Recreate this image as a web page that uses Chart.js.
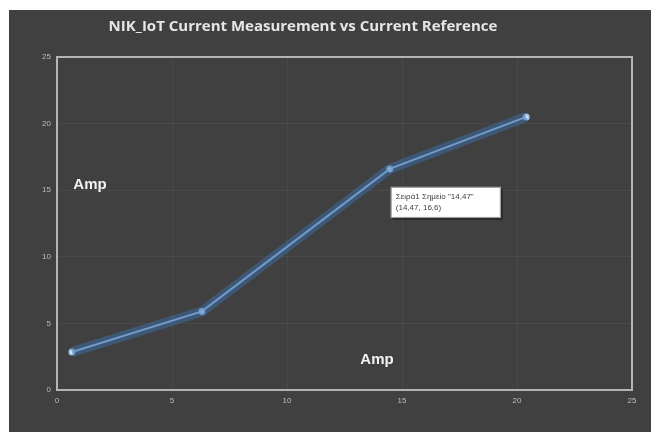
<!DOCTYPE html>
<html>
<head>
<meta charset="utf-8">
<script src="https://cdn.jsdelivr.net/npm/chart.js@4/dist/chart.umd.min.js"></script>
<style>
  body { margin: 0; background: #ffffff; }
  #wrap { position: absolute; left: 9px; top: 10px; width: 642px; height: 422px; background: #404040; }
</style>
</head>
<body>
<div id="wrap"><canvas id="c"></canvas></div>
<script>
'use strict';

// data
var chartTitle = 'NIK_IoT Current Measurement vs Current Reference';
var xValues = [0.65, 6.3, 14.47, 20.4];
var yValues = [2.85, 5.9, 16.6, 20.5];
var axisMin = 0;
var axisMax = 25;
var axisStep = 5;
var axisLabel = 'Amp';
var tipIndex = 2;
var tipLines = ['Σειρά1 Σημείο "14,47"', '(14,47, 16,6)'];

var points = xValues.map(function (x, i) { return { x: x, y: yValues[i] }; });

// title, axis words and the excel-like tooltip box
var extras = {
    id: 'extras',
    afterDraw: function (chart) {
        var ctx = chart.ctx;
        var area = chart.chartArea;
        ctx.save();
        ctx.fillStyle = '#e6e6e6';
        ctx.font = 'bold 15px "Open Sans", "Liberation Sans", sans-serif';
        ctx.textAlign = 'center';
        ctx.textBaseline = 'middle';
        ctx.fillText(chartTitle, 294, 17, 390);

        ctx.fillStyle = '#f2f2f2';
        ctx.font = 'bold 15px "Liberation Sans", Arial, sans-serif';
        ctx.fillText(axisLabel, 81, 175);
        ctx.fillText(axisLabel, 368, 350);

        // tooltip next to the point
        var px = chart.scales.x.getPixelForValue(xValues[tipIndex]);
        var py = chart.scales.y.getPixelForValue(yValues[tipIndex]);
        var bx = px + 1, by = py + 18, bw = 110, bh = 31;
        ctx.fillStyle = 'rgba(0,0,0,0.35)';
        ctx.fillRect(bx + 2, by + 2, bw, bh);
        ctx.fillStyle = '#ffffff';
        ctx.fillRect(bx, by, bw, bh);
        ctx.strokeStyle = '#9a9a9a';
        ctx.lineWidth = 1;
        ctx.strokeRect(bx + 0.5, by + 0.5, bw - 1, bh - 1);
        ctx.fillStyle = '#404040';
        ctx.font = '8px "Liberation Sans", Arial, sans-serif';
        ctx.textAlign = 'left';
        ctx.fillText(tipLines[0], bx + 5, by + 10);
        ctx.fillText(tipLines[1], bx + 5, by + 21);

        // frame of the plot
        ctx.strokeStyle = '#b4b4b4';
        ctx.lineWidth = 2;
        ctx.strokeRect(area.left, area.top, area.right - area.left, area.bottom - area.top);
        ctx.restore();
    }
};

new Chart(document.getElementById('c'), {
    type: 'scatter',
    data: {
        datasets: [
            {
                data: points,
                showLine: true,
                borderColor: 'rgba(60,110,170,0.5)',
                borderWidth: 10,
                pointRadius: 0,
                tension: 0
            },
            {
                data: points,
                showLine: true,
                borderColor: '#a4c8ea',
                borderWidth: 2,
                pointRadius: 2.5,
                pointBackgroundColor: '#e8f2ff',
                pointBorderColor: '#a4c8ea',
                tension: 0
            }
        ]
    },
    options: {
        responsive: true,
        maintainAspectRatio: false,
        animation: false,
        layout: { padding: { left: 0, top: 47, right: 19, bottom: 0 } },
        plugins: {
            legend: { display: false },
            tooltip: { enabled: false },
            title: { display: false }
        },
        scales: {
            x: {
                type: 'linear',
                min: axisMin,
                max: axisMax,
                afterFit: function (s) { s.height = 42; },
                ticks: { stepSize: axisStep, color: '#bdbdbd', font: { size: 8 }, padding: 6 },
                grid: { color: 'rgba(255,255,255,0.05)', drawTicks: false },
                border: { display: false }
            },
            y: {
                min: axisMin,
                max: axisMax,
                afterFit: function (s) { s.width = 48; },
                ticks: { stepSize: axisStep, color: '#bdbdbd', font: { size: 8 }, padding: 6 },
                grid: { color: 'rgba(255,255,255,0.05)', drawTicks: false },
                border: { display: false }
            }
        }
    },
    plugins: [extras]
});
</script>
</body>
</html>
